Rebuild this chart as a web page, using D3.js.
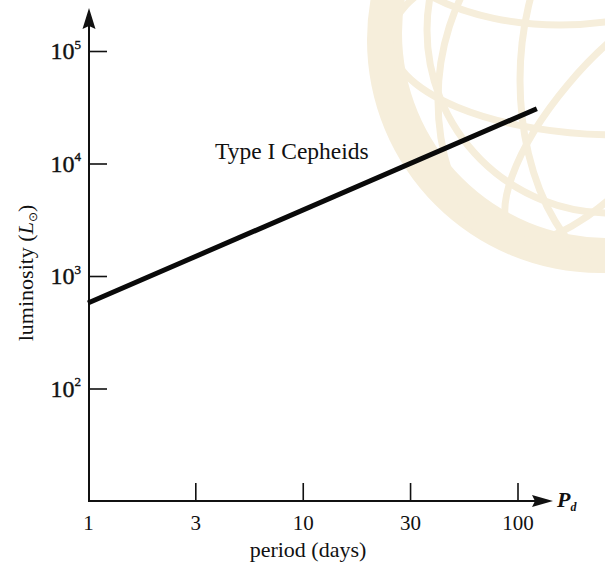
<!DOCTYPE html>
<html><head><meta charset="utf-8">
<script src="https://cdn.jsdelivr.net/npm/d3@7"></script>
<style>
body{margin:0;background:#fff}
svg{display:block}
text{font-family:"Liberation Serif","Times New Roman",serif;fill:#111}
</style>
</head><body><svg id="c" width="605" height="571"></svg>
<script>
// ---- data ----
const periods = [1, 123];
const luminosities = [575, 30700];
const seriesLabel = "Type I Cepheids";
const xTickValues = [1, 3.16, 10, 31.6, 100];
const xTickLabels = ["1", "3", "10", "30", "100"];
const yTickValues = [1e2, 1e3, 1e4, 1e5];
const yTickExponents = ["2", "3", "4", "5"];
const xTitle = "period (days)";
const yTitleMain = "luminosity (";
const axisSymbol = "P";
const axisSub = "d";

const svg = d3.select("#c");
const x = d3.scaleLog().domain([1, 100]).range([88, 517.5]);
const y = d3.scaleLog().domain([10, 1e5]).range([501, 51]);

// ---- watermark (background decoration) ----
const wm = "#f6eedb";
const defs = svg.append("defs");
defs.append("clipPath").attr("id", "wmclip")
  .append("circle").attr("cx", 600).attr("cy", 40).attr("r", 230);
const g0 = svg.append("g");
const ring = d3.path();
ring.arc(600, 40, 233, 0, 2 * Math.PI);
ring.moveTo(607 + 205, 33);
ring.arc(607, 33, 205, 0, 2 * Math.PI);
g0.append("path").attr("d", ring.toString()).attr("fill", wm).attr("fill-rule", "evenodd");
const gw = g0.append("g").attr("clip-path", "url(#wmclip)")
  .attr("fill", "none").attr("stroke", wm).attr("stroke-width", 7);
gw.append("ellipse").attr("cx", 600).attr("cy", 100).attr("rx", 162).attr("ry", 200);
gw.append("ellipse").attr("cx", 620).attr("cy", 40).attr("rx", 230).attr("ry", 95);
gw.append("ellipse").attr("cx", 560).attr("cy", -70).attr("rx", 180).attr("ry", 95);
gw.append("ellipse").attr("cx", 640).attr("cy", 80).attr("rx", 120).attr("ry", 200);
gw.append("circle").attr("cx", 610).attr("cy", 30).attr("r", 183);
gw.append("ellipse").attr("cx", 0).attr("cy", 0).attr("rx", 150).attr("ry", 55)
  .attr("transform", "translate(610,120) rotate(-50)");

// ---- axes ----
const ink = "#111";
const xAxis = d3.axisBottom(x).tickValues(xTickValues)
  .tickFormat((d, i) => xTickLabels[i]).tickSizeInner(-18).tickSizeOuter(0).tickPadding(14);
const gx = svg.append("g").attr("transform", "translate(0,501)").call(xAxis);
gx.select(".domain").remove();
gx.selectAll(".tick line").attr("stroke", ink).attr("stroke-width", 1.6)
  .filter((d, i) => i === 0).remove();
gx.selectAll(".tick text").attr("font-size", 21).attr("fill", ink)
  .style("font-family", "'Liberation Serif',serif");

const yAxis = d3.axisLeft(y).tickValues(yTickValues)
  .tickFormat(() => "").tickSizeInner(-18).tickSizeOuter(0).tickPadding(8);
const gy = svg.append("g").attr("transform", "translate(89,0)").call(yAxis);
gy.select(".domain").remove();
gy.selectAll(".tick line").attr("stroke", ink).attr("stroke-width", 1.6);
gy.selectAll(".tick text").each(function (d, i) {
  const t = d3.select(this).attr("font-size", 24).attr("fill", ink)
    .attr("stroke", ink).attr("stroke-width", 0.4)
    .style("font-family", "'Liberation Serif',serif");
  t.append("tspan").text("10");
  t.append("tspan").attr("font-size", 13).attr("dy", "-0.8em").text(yTickExponents[i]);
});

// axis lines with arrows
svg.append("line").attr("x1", 89).attr("x2", 89).attr("y1", 502).attr("y2", 20)
  .attr("stroke", ink).attr("stroke-width", 2);
svg.append("path").attr("d", "M89,8 L82.5,29 L89,26 L95.5,29 Z").attr("fill", ink);
svg.append("line").attr("x1", 88).attr("x2", 545).attr("y1", 501).attr("y2", 501)
  .attr("stroke", ink).attr("stroke-width", 2);
svg.append("path").attr("d", "M553,501 L532,495 L535,501 L532,507 Z").attr("fill", ink);

// axis symbol P_d
const ps = svg.append("text").attr("x", 557).attr("y", 507)
  .attr("font-size", 22).attr("font-weight", "bold").attr("font-style", "italic");
ps.append("tspan").text(axisSymbol);
ps.append("tspan").attr("font-size", 12).attr("dy", 4).text(axisSub);

// titles
svg.append("text").attr("x", 308).attr("y", 557).attr("text-anchor", "middle")
  .attr("font-size", 22).text(xTitle);
const yt = svg.append("text").attr("transform", "translate(33,273) rotate(-90)")
  .attr("text-anchor", "middle").attr("font-size", 22);
yt.append("tspan").text(yTitleMain);
yt.append("tspan").attr("font-style", "italic").text("L");
yt.append("tspan").attr("font-size", 12).attr("dy", 4).text("⊙");
yt.append("tspan").attr("dy", -4).text(")");

// ---- series ----
const pts = periods.map((p, i) => [p, luminosities[i]]);
svg.append("path").datum(pts)
  .attr("d", d3.line().x(d => x(d[0])).y(d => y(d[1])))
  .attr("fill", "none").attr("stroke", "#0a0a0a").attr("stroke-width", 5);
svg.append("text").attr("x", 215).attr("y", 159).attr("font-size", 23.5).text(seriesLabel);
</script>
</body></html>
